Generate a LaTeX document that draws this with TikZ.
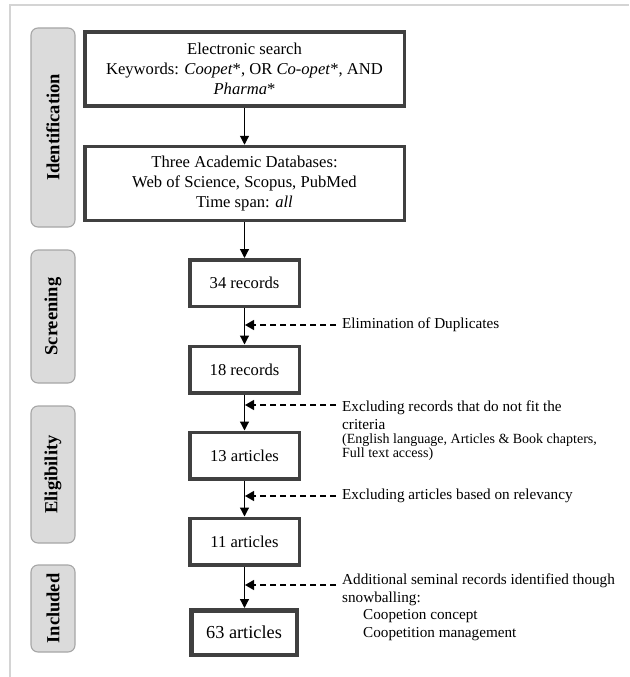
\documentclass[tikz,border=0pt]{standalone}
\usepackage{fontspec}
\setmainfont{Liberation Serif}
\usetikzlibrary{arrows.meta}
\begin{document}
\begin{tikzpicture}[x=1pt,y=-1pt,
  txt/.style={inner sep=0pt, align=left, font=\fontsize{15.2}{17.5}\selectfont},
  smalltxt/.style={inner sep=0pt, align=left, font=\fontsize{14}{14}\selectfont},
  stagebox/.style={draw=black!75, line width=3.5pt, fill=white, inner sep=0pt,
    minimum width=109.5pt, minimum height=46.5pt, align=center,
    font=\fontsize{16.6}{20}\selectfont},
  widebox/.style={stagebox, minimum width=319.5pt, minimum height=74pt},
  finalbox/.style={stagebox, line width=4.5pt, minimum width=105.5pt, minimum height=44.5pt,
    font=\fontsize{18.3}{20}\selectfont},
  phase/.style={draw=black!35, line width=1.1pt, fill=black!14, rounded corners=7pt,
    rotate=90, minimum height=44pt, inner sep=0pt,
    font=\fontsize{18.5}{20}\selectfont\bfseries},
  flow/.style={line width=1.2pt, -{Triangle[length=9pt,width=9pt]}},
  dasharrow/.style={line width=1.3pt, dash pattern=on 6pt off 4pt,
    -{Triangle[length=9pt,width=10pt]}},
  frame/.style={draw=black!17, line width=1.5pt}
]
\useasboundingbox (0,0) rectangle (629,677);

% outer frame (top and left edges only)
\draw[frame] (10,677) -- (10,5) -- (629,5);

% phase labels
\node[phase, minimum width=199pt] (pId) at (53,127.5) {Identification};
\node[phase, minimum width=133pt] (pSc) at (53,316.5) {Screening};
\node[phase, minimum width=137pt] (pEl) at (53,474.5) {Eligibility};
\node[phase, minimum width=87pt]  (pIn) at (53,608.5) {Included};

% main flow boxes
\node[widebox] (search) at (244.5,69) {Electronic search\\
  Keywords: \textit{Coopet}*, OR \textit{Co-opet}*, AND\\ \textit{Pharma}*};
\node[widebox] (dbs) at (244.5,183.5) {Three Academic Databases:\\
  Web of Science, Scopus, PubMed\\ Time span: \textit{all}};
\node[stagebox] (r34) at (244.5,283) {34 records};
\node[stagebox] (r18) at (244.5,369.5) {18 records};
\node[stagebox] (a13) at (244.5,455.5) {13 articles};
\node[stagebox] (a11) at (244.5,541.5) {11 articles};
\node[finalbox] (a63) at (244,632.5) {63 articles};

\draw[flow] (search) -- (dbs);
\draw[flow] (dbs) -- (r34);
\draw[flow] (r34) -- (r18);
\draw[flow] (r18) -- (a13);
\draw[flow] (a13) -- (a11);
\draw[flow] (a11.south) -- (a11.south |- a63.north);

% side notes with their dashed pointers
\coordinate (s1) at (336,325);   \coordinate (t1) at (245,325);
\coordinate (s2) at (336,405);   \coordinate (t2) at (245,405);
\coordinate (s3) at (336,496);   \coordinate (t3) at (245,496);
\coordinate (s4) at (336,585);   \coordinate (t4) at (245,585);

\draw[dasharrow] (s1) -- (t1);
\draw[dasharrow] (s2) -- (t2);
\draw[dasharrow] (s3) -- (t3);
\draw[dasharrow] (s4) -- (t4);

\node[txt, anchor=west] (n1) at (342,325) {Elimination of Duplicates};
\node[txt, anchor=north west] (n2) at (342,400.6)
  {Excluding records that do not fit the\\criteria};
\node[smalltxt, anchor=north west] (n2b) at (342,433.5)
  {(English language, Articles \& Book chapters,\\Full text access)};
\node[txt, anchor=west] (n3) at (342,496) {Excluding articles based on relevancy};
\node[txt, anchor=north west] (n4) at (342,574)
  {Additional seminal records identified though\\snowballing:\\
   \hspace*{21pt}Coopetion concept\\ \hspace*{21pt}Coopetition management};
\end{tikzpicture}
\end{document}
